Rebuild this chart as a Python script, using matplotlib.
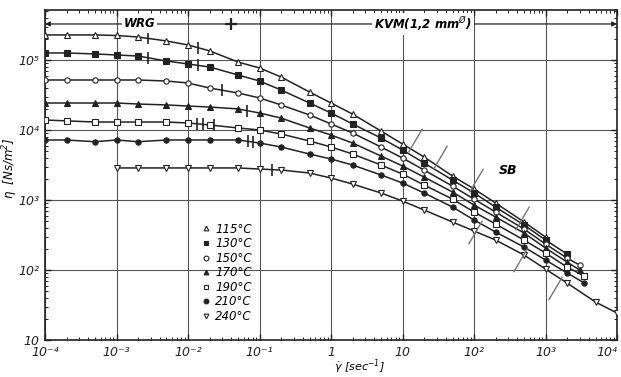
import numpy as np
import matplotlib.pyplot as plt
from matplotlib.path import Path
from matplotlib.ticker import LogLocator, FixedLocator, FixedFormatter, NullFormatter

plt.rcParams['font.family'] = ['DejaVu Sans']
plt.rcParams['font.style'] = 'italic'

# shear rate [1/s] and viscosity [Ns/m2]
g_115 = [1e-4, 2e-4, 5e-4, 1e-3, 2e-3, 5e-3, 1e-2, 2e-2, 5e-2, 0.1, 0.2, 0.5,
         1, 2, 5, 10, 20, 50, 100, 200, 500, 1000]
eta_115 = [2.28e5, 2.28e5, 2.28e5, 2.24e5, 2.13e5, 1.87e5, 1.64e5, 1.35e5, 9.36e4,
           7.69e4, 5.72e4, 3.49e4, 2.43e4, 1.69e4, 9.67e3, 6.31e3, 4.12e3, 2.20e3,
           1.44e3, 906, 485, 296]

g_130 = g_115 + [2000]
eta_130 = [1.26e5, 1.26e5, 1.22e5, 1.18e5, 1.14e5, 9.67e4, 8.77e4, 7.94e4, 6.11e4,
           5.01e4, 3.73e4, 2.43e4, 1.75e4, 1.22e4, 7.69e3, 5.18e3, 3.38e3, 1.93e3,
           1.26e3, 794, 439, 268, 169]

g_150 = g_115 + [2000, 3000]
eta_150 = [5.18e4, 5.18e4, 5.18e4, 5.18e4, 5.18e4, 5.01e4, 4.69e4, 3.98e4, 3.38e4,
           2.87e4, 2.28e4, 1.64e4, 1.22e4, 9.06e3, 5.72e3, 3.98e3, 2.68e3, 1.58e3,
           1.03e3, 674, 385, 235, 148, 118]

g_170 = g_115 + [2000, 3000]
eta_170 = [2.43e4, 2.43e4, 2.43e4, 2.43e4, 2.35e4, 2.28e4, 2.20e4, 2.13e4, 2.00e4,
           1.75e4, 1.48e4, 1.07e4, 8.48e3, 6.52e3, 4.25e3, 3.06e3, 2.13e3, 1.30e3,
           848, 572, 338, 206, 130, 100]

g_190 = g_115 + [2000, 3500]
eta_190 = [1.39e4, 1.35e4, 1.30e4, 1.30e4, 1.30e4, 1.30e4, 1.26e4, 1.18e4, 1.07e4,
           1.00e4, 8.77e3, 6.97e3, 5.72e3, 4.54e3, 3.16e3, 2.35e3, 1.64e3, 1.03e3,
           674, 454, 268, 175, 110, 82]

g_210 = g_115 + [2000, 3500]
eta_210 = [7.2e3, 7.2e3, 6.8e3, 7.2e3, 6.8e3, 7.2e3, 7.2e3, 7.2e3, 7.2e3,
           6.52e3, 5.72e3, 4.54e3, 3.85e3, 3.16e3, 2.28e3, 1.75e3, 1.26e3, 794,
           518, 349, 213, 139, 90.6, 65.2]

g_240 = [1e-3, 2e-3, 5e-3, 1e-2, 2e-2, 5e-2, 0.1, 0.2, 0.5, 1, 2, 5, 10, 20, 50,
         100, 200, 500, 1000, 2000, 5000, 1e4]
eta_240 = [2.87e3, 2.87e3, 2.87e3, 2.87e3, 2.87e3, 2.87e3, 2.77e3, 2.68e3, 2.43e3,
           2.06e3, 1.69e3, 1.26e3, 967, 720, 485, 361, 268, 164, 103, 65.2, 34.9, 24.3]

labels = ['115°C', '130°C', '150°C', '170°C', '190°C', '210°C', '240°C']
gammas = [g_115, g_130, g_150, g_170, g_190, g_210, g_240]
etas = [eta_115, eta_130, eta_150, eta_170, eta_190, eta_210, eta_240]
markers = ['^', 's', 'o', '^', 's', 'o', 'v']
filled = [False, True, False, True, False, True, False]

# shear rates where the short vertical ticks sit on each curve
tick_g = [[2.75e-3, 1.4e-2], [2.75e-3, 1.4e-2], [3e-2], [6.7e-2],
          [1.35e-2, 1.6e-2, 2.3e-2], [6.9e-2, 8e-2], [0.15]]

# SB onset strokes
sb_g = [15, 33, 107, 469, 103, 440, 1360]
sb_eta = [7.2e3, 4.1e3, 1.93e3, 553, 349, 139, 55.3]

fig = plt.figure(figsize=(6.21, 3.77), dpi=100)
ax = fig.add_axes([0.0725, 0.0981, 0.9211, 0.8754])
ax.set_xscale('log')
ax.set_yscale('log')
ax.set_xlim(1e-4, 1e4)
ax.set_ylim(10, 5.18e5)

ax.grid(which='major', color='#555555', lw=0.8)

for g, e, m, f, lab, tg in zip(gammas, etas, markers, filled, labels, tick_g):
    ax.plot(g, e, color='#222222', lw=1.1, zorder=3)
    ax.plot(g, e, ls='none', marker=m, ms=3.8, mec='#222222', mew=0.8,
            mfc='#222222' if f else 'white', zorder=4, label=lab)
    te = 10 ** np.interp(np.log10(tg), np.log10(g), np.log10(e))
    ax.plot(tg, te, ls='none', marker='|', ms=8, mew=1.2, color='#222222', zorder=4)

stroke = Path([(-0.5, -0.85), (0.5, 0.85)], [Path.MOVETO, Path.LINETO])
ax.plot(sb_g, sb_eta, ls='none', marker=stroke, ms=17, mew=1.0, color='#777777',
        zorder=5)
ax.text(300, 2.6e3, 'SB', fontsize=9, fontweight='bold', ha='center', va='center')

# measuring-range arrows at the top
y_arr = 3.27e5
g_split = 0.04
ax.annotate('', xy=(1e-4, y_arr), xytext=(g_split, y_arr),
            arrowprops=dict(arrowstyle='-|>', color='#222222', lw=0.9,
                            mutation_scale=7, shrinkA=0, shrinkB=0), zorder=6)
ax.annotate('', xy=(1e4, y_arr), xytext=(g_split, y_arr),
            arrowprops=dict(arrowstyle='-|>', color='#222222', lw=0.9,
                            mutation_scale=7, shrinkA=0, shrinkB=0), zorder=6)
ax.plot([g_split], [y_arr], marker='+', ms=9, mew=1.6, color='#222222', zorder=7)
ax.text(2.1e-3, y_arr, 'WRG', fontsize=8.5, fontweight='bold', ha='center',
        va='center', bbox=dict(fc='white', ec='none', pad=1.5), zorder=8)
ax.text(19.6, y_arr, 'KVM(1,2 mm$^{\\O}$)', fontsize=8.5, fontweight='bold',
        ha='center', va='center', bbox=dict(fc='white', ec='none', pad=1.5), zorder=8)

# axes and ticks
xt = [1e-4, 1e-3, 1e-2, 1e-1, 1, 10, 1e2, 1e3, 1e4]
xl = ['10⁻⁴', '10⁻³', '10⁻²', '10⁻¹', '1', '10', '10²', '10³', '10⁴']
yt = [10, 1e2, 1e3, 1e4, 1e5]
yl = ['10', '10²', '10³', '10⁴', '10⁵']
ax.xaxis.set_major_locator(FixedLocator(xt))
ax.xaxis.set_major_formatter(FixedFormatter(xl))
ax.yaxis.set_major_locator(FixedLocator(yt))
ax.yaxis.set_major_formatter(FixedFormatter(yl))
ax.xaxis.set_minor_locator(LogLocator(base=10, subs=np.arange(2, 10), numticks=20))
ax.yaxis.set_minor_locator(LogLocator(base=10, subs=np.arange(2, 10), numticks=20))
ax.xaxis.set_minor_formatter(NullFormatter())
ax.yaxis.set_minor_formatter(NullFormatter())
ax.tick_params(which='both', direction='in', top=True, right=True, colors='#222222',
               labelsize=9)
ax.tick_params(which='major', length=4, width=1.0, pad=4)
ax.tick_params(which='minor', length=2.5, width=0.7)
for s in ax.spines.values():
    s.set_linewidth(1.2)
    s.set_color('#222222')
# keep the last x label inside the figure
ax.get_xticklabels()[-1].set_horizontalalignment('right')

ax.set_xlabel('$\\dot{\\gamma}$ [sec$^{-1}$]', fontsize=8, labelpad=1)
ax.xaxis.set_label_coords(0.55, -0.052)
ax.set_ylabel('$\\eta$  [Ns/m$^2$]', fontsize=8.5, labelpad=2)
ax.yaxis.set_label_coords(-0.043, 0.52)

ax.legend(loc='upper left', bbox_to_anchor=(0.262, 0.37), frameon=False,
          fontsize=8.5, handletextpad=0.3, labelspacing=0.13, borderaxespad=0,
          handlelength=1.0, markerscale=0.9)

fig.savefig('out.png', dpi=100)
